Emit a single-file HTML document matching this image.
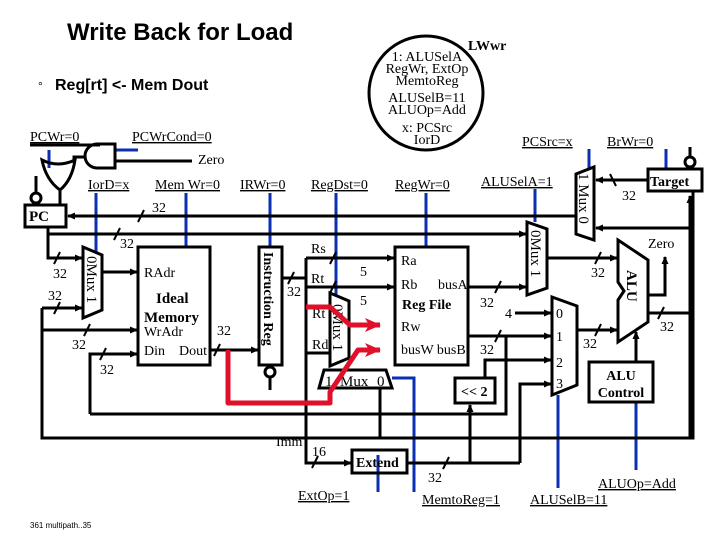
<!DOCTYPE html>
<html><head><meta charset="utf-8"><style>
html,body{margin:0;padding:0;background:#fff;}
svg{display:block;}
.s{font-family:"Liberation Serif",serif;font-size:14px;}
.u{text-decoration:underline;}
</style></head><body>
<svg width="720" height="540" viewBox="0 0 720 540" xmlns="http://www.w3.org/2000/svg">
<defs><marker id="a" markerWidth="8" markerHeight="8" refX="7" refY="4" orient="auto" markerUnits="userSpaceOnUse"><path d="M0,0.5 L8,4 L0,7.5 z" fill="#000"/></marker>
<marker id="r" markerWidth="16" markerHeight="14" refX="15" refY="7" orient="auto" markerUnits="userSpaceOnUse"><path d="M0,0 L16,7 L0,14 L4,7 z" fill="#e0102a"/></marker></defs>
<text x="67" y="40" font-family="Liberation Sans,sans-serif" font-size="24" font-weight="bold">Write Back for Load</text>
<text x="38" y="90" font-family="Liberation Sans,sans-serif" font-size="12">°</text>
<text x="55" y="90" font-family="Liberation Sans,sans-serif" font-size="16" font-weight="bold">Reg[rt] &lt;-  Mem Dout</text>
<text x="30" y="528" font-family="Liberation Sans,sans-serif" font-size="8">361 multipath..35</text>

<circle cx="426" cy="93" r="57" fill="none" stroke="#000" stroke-width="3"/>
<text x="468" y="50" class="s" font-weight="bold" font-size="15">LWwr</text>
<g class="s" text-anchor="middle" font-size="14">
<text x="427" y="61">1: ALUSelA</text><text x="427" y="73">RegWr, ExtOp</text><text x="427" y="85">MemtoReg</text>
<text x="427" y="102">ALUSelB=11</text><text x="427" y="114">ALUOp=Add</text>
<text x="427" y="132">x: PCSrc</text><text x="427" y="144">IorD</text></g>

<g class="s" font-size="14">
<text x="30" y="141" class="u">PCWr=0</text>
<text x="132" y="141" class="u">PCWrCond=0</text>
<text x="198" y="164">Zero</text>
<text x="88" y="189" class="u">IorD=x</text>
<text x="155" y="189" class="u">Mem Wr=0</text>
<text x="240" y="189" class="u">IRWr=0</text>
<text x="311" y="189" class="u">RegDst=0</text>
<text x="395" y="189" class="u">RegWr=0</text>
<text x="481" y="186" class="u">ALUSelA=1</text>
<text x="522" y="146" class="u">PCSrc=x</text>
<text x="607" y="146" class="u">BrWr=0</text>
<text x="298" y="500" class="u">ExtOp=1</text>
<text x="422" y="504" class="u">MemtoReg=1</text>
<text x="530" y="504" class="u">ALUSelB=11</text>
<text x="598" y="488" class="u">ALUOp=Add</text>
</g>

<g stroke="#0a2fb0" stroke-width="3" fill="none">
<path d="M115 150H138M49 150V168M96 193V252M186 193V247M270 193V247M336 193V297M426 193V247M535 189V222M589 149V168M666 149V170M392 378H414V492M378 455V492M558 395V488M636 402V470"/>
</g>

<g stroke="#000" stroke-width="3" fill="none">
<path d="M30 145H100"/>
<path d="M115 144V168H97A12 12 0 0 1 97 144Z"/>
<path d="M115 161H192"/>
<path d="M85 157H74V163"/>
<path d="M42 160Q58 168 75 160Q72 180 60 190Q46 180 42 160Z"/>
<path d="M60 190V205M36 176V193"/>
<circle cx="36" cy="198" r="5"/>
<rect x="25" y="205" width="41" height="22" fill="#fff"/>
<path d="M48 227V258H82" marker-end="url(#a)"/>
<path d="M576 216H68" marker-end="url(#a)"/>
<path d="M48 234H526" marker-end="url(#a)"/>
<path d="M83 247L102 255V310L83 318Z" fill="#fff"/>
<path d="M102 272H137" marker-end="url(#a)"/>
<rect x="138" y="247" width="72" height="118"/>
<path d="M42 308H82" marker-end="url(#a)"/>
<path d="M42 330H137" marker-end="url(#a)"/>
<path d="M90 414V354H137" marker-end="url(#a)"/>
<path d="M42 308V438H693V178"/>
<path d="M210 350H258" marker-end="url(#a)"/>
<rect x="259" y="247" width="23" height="118"/>
<circle cx="270" cy="372" r="5"/><path d="M270 377V390"/>
<path d="M282 278H306M306 258V463H350" />
<path d="M350 463H351" marker-end="url(#a)"/>
<path d="M306 258H394" marker-end="url(#a)"/>
<path d="M306 287H394" marker-end="url(#a)"/>
<path d="M306 353H330"/>
<path d="M330 293L349 301V358L330 366Z" fill="#fff"/>
<path d="M324 370H386L392 388H319Z" fill="#fff"/>
<path d="M380 388V438"/>
<rect x="395" y="247" width="73" height="118"/>
<path d="M468 287H526" marker-end="url(#a)"/>
<path d="M468 336H551" marker-end="url(#a)"/>
<path d="M506 336V414H90"/>
<path d="M515 313H551" marker-end="url(#a)"/>
<path d="M485 378V360H551" marker-end="url(#a)"/>
<path d="M520 463V384H551" marker-end="url(#a)"/>
<path d="M470 463V405" marker-end="url(#a)"/>
<rect x="455" y="378" width="40" height="25" fill="#fff"/>
<rect x="352" y="450" width="55" height="23"/>
<path d="M407 463H520"/>
<path d="M527 222L547 229V288L527 295Z" fill="#fff"/>
<path d="M552 297L577 306V385L552 395Z" fill="#fff"/>
<path d="M547 258H617" marker-end="url(#a)"/>
<path d="M577 330H617" marker-end="url(#a)"/>
<path d="M618 240L648 260V322L618 342V300L624 291L618 282Z" fill="#fff"/>
<path d="M648 295H665V257" marker-end="url(#a)"/>
<path d="M648 313H690"/>
<path d="M690 438V196" marker-end="url(#a)"/>
<path d="M690 228H596" marker-end="url(#a)"/>
<rect x="589" y="362" width="64" height="40"/>
<path d="M636 362V332" marker-end="url(#a)"/>
<path d="M576 174L594 167V240L576 234Z" fill="#fff"/>
<path d="M648 180H596" marker-end="url(#a)"/>
<rect x="648" y="169" width="54" height="22" fill="#fff"/>
<path d="M690 147V157"/><circle cx="690" cy="162" r="5"/>
</g>
<g stroke="#000" stroke-width="2">
<path d="M138 222L144 210M114 240L120 228M54 264L60 252M54 314L60 302M84 336L90 324M100 360L106 348M214 356L220 344M288 284L294 272M330 264L336 252M330 293L336 281M495 293L501 281M495 342L501 330M312 468L318 456M443 469L449 457M595 264L601 252M595 336L601 324M658 319L664 307M610 174L616 186"/>
</g>
<g class="s" font-size="13">
<text x="152" y="212">32</text><text x="120" y="248">32</text>
<text x="53" y="278">32</text><text x="48" y="300">32</text><text x="72" y="349">32</text><text x="100" y="374">32</text>
<text x="217" y="335">32</text><text x="287" y="296">32</text>
<text x="360" y="276">5</text><text x="360" y="305">5</text>
<text x="480" y="307">32</text><text x="480" y="354">32</text>
<text x="591" y="277">32</text><text x="583" y="348">32</text><text x="660" y="331">32</text>
<text x="622" y="200">32</text><text x="312" y="456">16</text><text x="428" y="482">32</text>
<text x="505" y="318">4</text>
<text x="556" y="318">0</text><text x="556" y="341">1</text><text x="556" y="367">2</text><text x="556" y="388">3</text>
<text x="648" y="248">Zero</text>
<text x="276" y="446">Imm</text>
<text x="29" y="221" font-weight="bold" font-size="15">PC</text>
<text x="144" y="277">RAdr</text>
<text x="156" y="303" font-weight="bold" font-size="15">Ideal</text>
<text x="144" y="322" font-weight="bold" font-size="15">Memory</text>
<text x="144" y="336">WrAdr</text><text x="144" y="355">Din</text><text x="179" y="355">Dout</text>
<text x="311" y="253">Rs</text><text x="311" y="283">Rt</text><text x="312" y="318">Rt</text><text x="312" y="349">Rd</text>
<text x="401" y="265">Ra</text><text x="401" y="289">Rb</text><text x="438" y="289">busA</text>
<text x="402" y="309" font-weight="bold" font-size="14">Reg File</text>
<text x="401" y="331">Rw</text><text x="401" y="354">busW busB</text>
<text x="325" y="386" font-size="15">1</text><text x="340" y="386" font-size="15">Mux</text><text x="377" y="386" font-size="15">0</text>
<text x="461" y="396" font-weight="bold">&lt;&lt; 2</text>
<text x="356" y="467" font-weight="bold">Extend</text>
<text x="650" y="186" font-weight="bold" font-size="14">Target</text>
<text x="621" y="380" font-weight="bold" text-anchor="middle">ALU</text>
<text x="621" y="397" font-weight="bold" text-anchor="middle">Control</text>
<text x="264" y="252" font-weight="bold" transform="rotate(90 264 252)">Instruction Reg</text>
<text x="87" y="256" font-size="15" transform="rotate(90 87 256)">0Mux 1</text>
<text x="333" y="304" font-size="15" transform="rotate(90 333 304)">0Mux 1</text>
<text x="531" y="230" font-size="15" transform="rotate(90 531 230)">0Mux 1</text>
<text x="579" y="173" font-size="15" transform="rotate(90 579 173)">1 Mux 0</text>
<text x="627" y="270" font-weight="bold" font-size="15" transform="rotate(90 627 270)">ALU</text>
</g>
<g stroke="#e0102a" stroke-width="5" fill="none" stroke-linejoin="round">
<path d="M228 350V403H330V392L358 350H380" marker-end="url(#r)"/>
<path d="M306 307H330L350 325H380" marker-end="url(#r)"/>
</g>
</svg>
</body></html>
